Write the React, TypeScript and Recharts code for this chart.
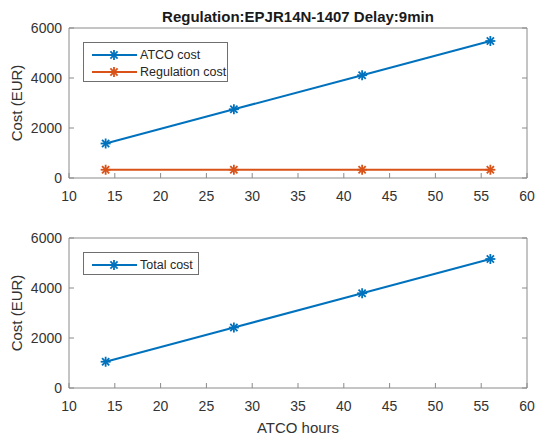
import React from "react";
import { LineChart, Line, XAxis, YAxis, Legend } from "recharts";

// ATCO hours on the x axis
const hours = [14, 28, 42, 56];
const atcoCost = [1380, 2750, 4110, 5480];
const regulationCost = [330, 330, 330, 330];
const totalCost = [1050, 2420, 3790, 5160];

const xTicks = [10, 15, 20, 25, 30, 35, 40, 45, 50, 55, 60];
const yTicks = [0, 2000, 4000, 6000];

const BLUE = "#0072BD";
const ORANGE = "#D95319";
const AXIS = "#8a8a8a";
const TEXT = "#333333";
const FONT = "'Liberation Sans', Arial, sans-serif";

const topData = hours.map((h, i) => ({ hours: h, atco: atcoCost[i], regulation: regulationCost[i] }));
const bottomData = hours.map((h, i) => ({ hours: h, total: totalCost[i] }));

function Asterisk(props: any) {
  const { cx, cy, stroke } = props;
  if (cx == null || cy == null) return <g />;
  const r = 5;
  const d = r * 0.72;
  return (
    <g stroke={stroke} strokeWidth={1.8}>
      <line x1={cx - r} y1={cy} x2={cx + r} y2={cy} />
      <line x1={cx} y1={cy - r} x2={cx} y2={cy + r} />
      <line x1={cx - d} y1={cy - d} x2={cx + d} y2={cy + d} />
      <line x1={cx - d} y1={cy + d} x2={cx + d} y2={cy - d} />
    </g>
  );
}

function LegendBox({ payload, width, height }: { payload?: any[]; width: number; height: number }) {
  return (
    <div
      style={{
        width,
        height,
        boxSizing: "border-box",
        border: "1px solid #6f6f6f",
        background: "#fff",
        paddingTop: 3,
        fontFamily: FONT,
        fontSize: 12.5,
        color: "#262626",
      }}
    >
      {(payload ?? []).map((p) => (
        <div key={p.value} style={{ display: "flex", alignItems: "center", height: 17 }}>
          <svg width={55} height={14} style={{ flex: "none" }}>
            <line x1={8} y1={7} x2={53} y2={7} stroke={p.color} strokeWidth={2} />
            <Asterisk cx={30} cy={7} stroke={p.color} />
          </svg>
          <span style={{ marginLeft: 1, whiteSpace: "nowrap" }}>{p.value}</span>
        </div>
      ))}
    </div>
  );
}

const tickStyle = { fill: TEXT, fontSize: 14, fontFamily: FONT };
const lineStyle = { stroke: AXIS, strokeWidth: 1 };
const noTick = () => <g />;
const yLabelStyle = { textAnchor: "middle", fill: TEXT, fontSize: 15, fontFamily: FONT };

export default function App() {
  const axisCommon = { axisLine: lineStyle, tickLine: lineStyle, stroke: AXIS, tickSize: -5 };
  return (
    <div style={{ position: "absolute", left: 0, top: 0, width: 543, height: 437, background: "#fff", fontFamily: FONT }}>
      <div
        style={{
          position: "absolute",
          left: 69,
          width: 458,
          top: 8,
          textAlign: "center",
          fontWeight: "bold",
          fontSize: 15,
          lineHeight: "17px",
          color: "#1a1a1a",
        }}
      >
        Regulation:EPJR14N-1407 Delay:9min
      </div>

      <div style={{ position: "absolute", left: 0, top: 0 }}>
        <LineChart width={543} height={212} data={topData} margin={{ top: 27, right: 15, bottom: 0, left: 0 }}>
          <XAxis
            dataKey="hours"
            type="number"
            domain={[10, 60]}
            ticks={xTicks}
            allowDataOverflow
            height={34}
            tick={tickStyle}
            tickMargin={18}
            {...axisCommon}
          />
          <XAxis xAxisId="top" orientation="top" type="number" domain={[10, 60]} ticks={xTicks} allowDataOverflow height={1} tick={noTick} {...axisCommon} />
          <YAxis
            type="number"
            domain={[0, 6000]}
            ticks={yTicks}
            allowDataOverflow
            width={69}
            tick={tickStyle}
            tickMargin={12}
            label={{ value: "Cost (EUR)", angle: -90, position: "insideLeft", offset: 17, style: yLabelStyle }}
            {...axisCommon}
          />
          <YAxis yAxisId="right" orientation="right" type="number" domain={[0, 6000]} ticks={yTicks} allowDataOverflow width={1} tick={noTick} {...axisCommon} />
          <Legend
            layout="horizontal"
            verticalAlign="middle"
            align="center"
            wrapperStyle={{ left: 83, top: 42, width: "auto" }}
            content={(props: any) => <LegendBox payload={props.payload} width={145} height={40} />}
          />
          <Line type="linear" dataKey="atco" name="ATCO cost" stroke={BLUE} strokeWidth={2} dot={(p: any) => <Asterisk key={p.index} {...p} stroke={BLUE} />} activeDot={false} isAnimationActive={false} />
          <Line type="linear" dataKey="regulation" name="Regulation cost" stroke={ORANGE} strokeWidth={2} dot={(p: any) => <Asterisk key={p.index} {...p} stroke={ORANGE} />} activeDot={false} isAnimationActive={false} />
        </LineChart>
      </div>

      <div style={{ position: "absolute", left: 0, top: 200 }}>
        <LineChart width={543} height={237} data={bottomData} margin={{ top: 37, right: 15, bottom: 0, left: 0 }}>
          <XAxis
            dataKey="hours"
            type="number"
            domain={[10, 60]}
            ticks={xTicks}
            allowDataOverflow
            height={49}
            tick={tickStyle}
            tickMargin={18}
            label={{ value: "ATCO hours", position: "insideBottom", offset: 4, style: { fill: TEXT, fontSize: 15, fontFamily: FONT } }}
            {...axisCommon}
          />
          <XAxis xAxisId="top" orientation="top" type="number" domain={[10, 60]} ticks={xTicks} allowDataOverflow height={1} tick={noTick} {...axisCommon} />
          <YAxis
            type="number"
            domain={[0, 6000]}
            ticks={yTicks}
            allowDataOverflow
            width={69}
            tick={tickStyle}
            tickMargin={12}
            label={{ value: "Cost (EUR)", angle: -90, position: "insideLeft", offset: 17, style: yLabelStyle }}
            {...axisCommon}
          />
          <YAxis yAxisId="right" orientation="right" type="number" domain={[0, 6000]} ticks={yTicks} allowDataOverflow width={1} tick={noTick} {...axisCommon} />
          <Legend
            layout="horizontal"
            verticalAlign="middle"
            align="center"
            wrapperStyle={{ left: 83, top: 52, width: "auto" }}
            content={(props: any) => <LegendBox payload={props.payload} width={116} height={23} />}
          />
          <Line type="linear" dataKey="total" name="Total cost" stroke={BLUE} strokeWidth={2} dot={(p: any) => <Asterisk key={p.index} {...p} stroke={BLUE} />} activeDot={false} isAnimationActive={false} />
        </LineChart>
      </div>
    </div>
  );
}
